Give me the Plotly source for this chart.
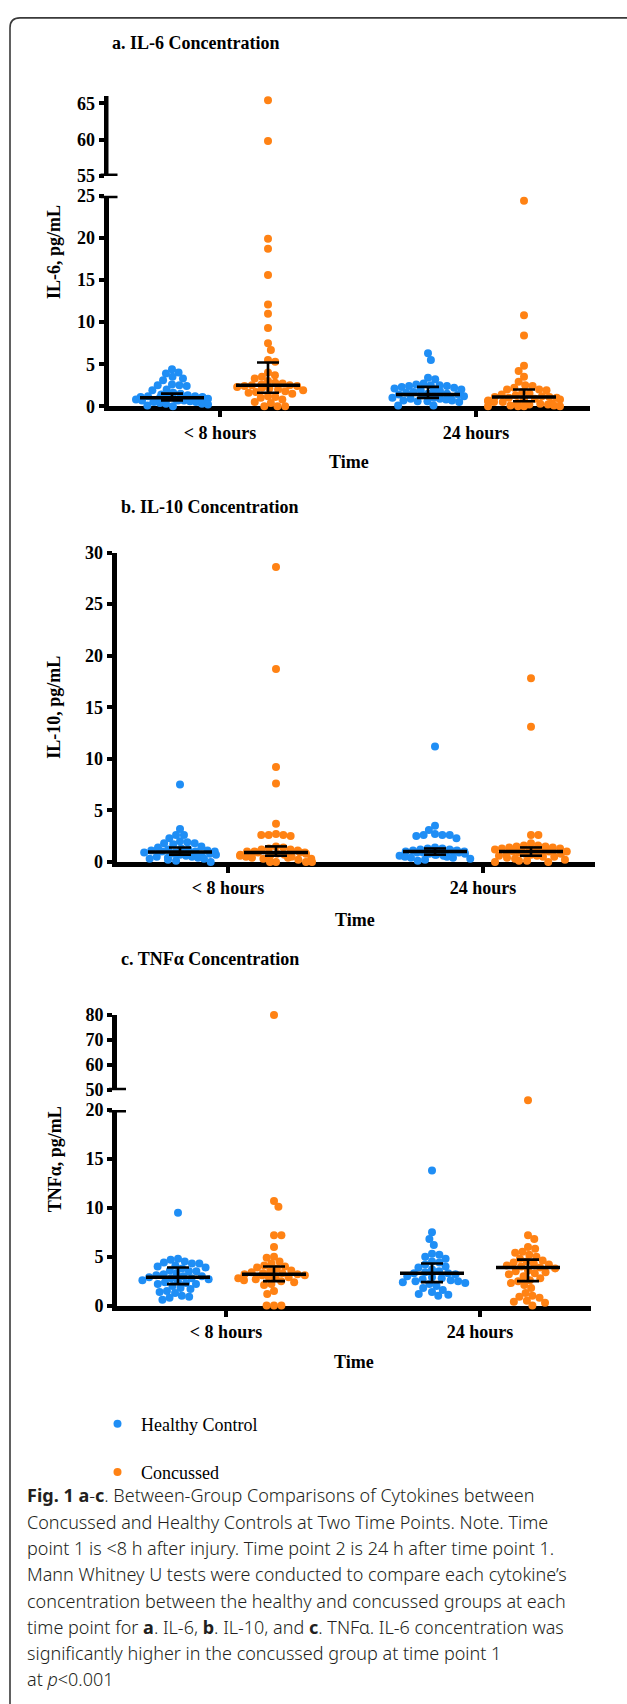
import numpy as np
import plotly.graph_objects as go

W, H = 627, 1704

# ---------------- data ----------------
categories = ["&lt; 8 hours", "24 hours"]
groups = ["Healthy Control", "Concussed"]

# IL-6, pg/mL
il6_hc_8h = [4.4, 4.0, 3.9, 3.5, 3.3, 3.1, 2.6, 2.5, 2.5, 2.4, 2.0, 1.9, 1.6, 1.5, 1.4, 1.3, 1.2, 1.2,
             1.1, 1.1, 1.0, 1.0, 1.0, 0.9, 0.9, 0.8, 0.8, 0.7, 0.7, 0.7, 0.6, 0.6, 0.5, 0.5, 0.4, 0.3,
             0.3, 0.2, 0.1, 0.0]
il6_cc_8h = [65.4, 59.8, 19.9, 18.7, 15.6, 12.1, 11.0, 9.3, 7.5, 6.7, 5.5, 5.3, 4.0, 3.7, 3.5, 3.3,
             3.0, 2.8, 2.7, 2.6, 2.5, 2.5, 2.4, 2.4, 2.3, 2.2, 2.1, 2.0, 1.9, 1.8, 1.7, 1.6, 1.5, 1.2,
             1.1, 1.0, 0.8, 0.5, 0.4, 0.0, 0.0, 0.0]
il6_hc_24h = [6.3, 5.5, 3.4, 3.2, 2.7, 2.6, 2.5, 2.5, 2.4, 2.4, 2.3, 2.2, 2.1, 2.0, 2.0, 1.9, 1.8,
              1.7, 1.6, 1.5, 1.5, 1.4, 1.4, 1.3, 1.2, 1.1, 1.0, 1.0, 0.9, 0.9, 0.8, 0.8, 0.7, 0.7,
              0.6, 0.6, 0.5, 0.1, 0.1]
il6_cc_24h = [24.4, 10.8, 8.4, 4.8, 4.2, 3.5, 2.9, 2.5, 2.4, 2.2, 2.0, 2.0, 1.9, 1.7, 1.5, 1.4, 1.3,
              1.2, 1.1, 1.1, 1.0, 1.0, 0.9, 0.8, 0.8, 0.7, 0.6, 0.5, 0.5, 0.4, 0.3, 0.3, 0.2, 0.2,
              0.1, 0.1, 0.0, 0.0, 0.0, 0.0]
# median, Q1, Q3 per [8h, 24h]
il6_hc_stats = [(1.0, 0.7, 1.5), (1.4, 1.0, 2.3)]
il6_cc_stats = [(2.5, 1.6, 5.2), (1.1, 0.6, 2.0)]

# IL-10, pg/mL
il10_hc_8h = [7.5, 3.2, 2.6, 2.6, 2.3, 2.0, 1.9, 1.8, 1.8, 1.7, 1.5, 1.4, 1.3, 1.2, 1.2, 1.1, 1.1,
              1.0, 1.0, 1.0, 0.9, 0.9, 0.8, 0.8, 0.7, 0.7, 0.6, 0.6, 0.5, 0.5, 0.4, 0.4, 0.3, 0.3,
              0.2, 0.1, 0.0]
il10_cc_8h = [28.6, 18.7, 9.2, 7.6, 3.7, 2.7, 2.6, 2.6, 2.6, 2.5, 1.5, 1.4, 1.3, 1.2, 1.2, 1.1, 1.0,
              1.0, 0.9, 0.9, 0.9, 0.8, 0.8, 0.7, 0.7, 0.6, 0.6, 0.5, 0.5, 0.4, 0.4, 0.3, 0.3, 0.2,
              0.0, 0.0, 0.0, 0.0]
il10_hc_24h = [11.2, 3.5, 3.1, 2.7, 2.6, 2.6, 2.6, 2.5, 2.3, 1.4, 1.3, 1.3, 1.2, 1.2, 1.1, 1.1, 1.0,
               1.0, 1.0, 0.9, 0.9, 0.9, 0.8, 0.8, 0.7, 0.7, 0.6, 0.6, 0.5, 0.5, 0.4, 0.4, 0.3, 0.2,
               0.1]
il10_cc_24h = [17.8, 13.1, 2.6, 2.6, 1.8, 1.6, 1.6, 1.5, 1.5, 1.4, 1.4, 1.3, 1.3, 1.2, 1.2, 1.1, 1.1,
               1.0, 1.0, 1.0, 0.9, 0.9, 0.8, 0.8, 0.7, 0.7, 0.6, 0.6, 0.5, 0.5, 0.4, 0.3, 0.2, 0.1,
               0.1, 0.0, 0.0]
il10_hc_stats = [(0.95, 0.7, 1.4), (1.0, 0.7, 1.3)]
il10_cc_stats = [(0.9, 0.6, 1.5), (1.0, 0.6, 1.4)]

# TNF-alpha, pg/mL
tnf_hc_8h = [9.5, 4.8, 4.7, 4.5, 4.4, 4.3, 4.3, 4.1, 4.0, 3.9, 3.8, 3.6, 3.5, 3.5, 3.3, 3.2, 3.1,
             3.0, 3.0, 2.9, 2.8, 2.8, 2.7, 2.6, 2.5, 2.4, 2.3, 2.2, 2.2, 2.0, 1.8, 1.7, 1.5, 1.4,
             1.3, 1.0, 0.9, 0.8, 0.6]
tnf_cc_8h = [80.0, 10.7, 10.1, 7.2, 7.2, 6.0, 5.0, 4.9, 4.5, 4.3, 4.1, 4.0, 3.9, 3.8, 3.6, 3.5, 3.4,
             3.3, 3.3, 3.2, 3.2, 3.1, 3.1, 3.0, 3.0, 2.9, 2.9, 2.8, 2.7, 2.6, 2.5, 2.4, 2.2, 2.1,
             1.5, 1.2, 0.0, 0.0, 0.0]
tnf_hc_24h = [13.8, 7.5, 6.8, 6.2, 5.3, 5.2, 5.0, 4.8, 4.5, 4.4, 4.2, 4.0, 3.9, 3.7, 3.5, 3.4, 3.3,
              3.3, 3.2, 3.0, 2.9, 2.8, 2.7, 2.6, 2.5, 2.5, 2.4, 2.3, 2.2, 2.0, 1.8, 1.6, 1.4, 1.2,
              1.1, 1.0]
tnf_cc_24h = [46.0, 7.2, 6.8, 6.0, 5.8, 5.5, 5.4, 5.2, 5.0, 4.8, 4.6, 4.5, 4.4, 4.3, 4.2, 4.1, 4.0,
              3.9, 3.8, 3.6, 3.5, 3.4, 3.3, 3.2, 3.0, 2.8, 2.6, 2.5, 2.3, 2.1, 1.8, 1.3, 1.0, 0.9,
              0.8, 0.5, 0.4, 0.3, 0.0]
tnf_hc_stats = [(2.9, 2.2, 3.9), (3.3, 2.4, 4.3)]
tnf_cc_stats = [(3.2, 2.5, 4.0), (3.9, 2.5, 4.7)]

# ---------------- styling / layout constants ----------------
COL = {"Healthy Control": "#1f8ef5", "Concussed": "#ff8214"}
SERIF = "Liberation Serif"
SANS = "Noto Sans"
LW = 5

panels = [
    dict(title="a. IL-6 Concentration", ytitle="IL-6, pg/mL",
         data=[[il6_hc_8h, il6_hc_24h], [il6_cc_8h, il6_cc_24h]],
         stats=[il6_hc_stats, il6_cc_stats],
         xpx=(108.5, 590), catpx=(220, 476),
         low=dict(px=(401, 188), rng=(0, 25), tickvals=[0, 5, 10, 15, 20, 25]),
         up=dict(px=(168, 87), rng=(55, 66), tickvals=[55, 60, 65]),
         tpos=(196, 33), ytpos=(54, 245), xtpos=(349, 457)),
    dict(title="b. IL-10 Concentration", ytitle="IL-10, pg/mL",
         data=[[il10_hc_8h, il10_hc_24h], [il10_cc_8h, il10_cc_24h]],
         stats=[il10_hc_stats, il10_cc_stats],
         xpx=(116.5, 595), catpx=(228, 483),
         low=dict(px=(862, 549), rng=(0, 30), tickvals=[0, 5, 10, 15, 20, 25, 30]),
         up=None,
         tpos=(210, 503), ytpos=(54, 706), xtpos=(355, 921)),
    dict(title="c. TNF\u03b1 Concentration", ytitle="TNF\u03b1, pg/mL",
         data=[[tnf_hc_8h, tnf_hc_24h], [tnf_cc_8h, tnf_cc_24h]],
         stats=[tnf_hc_stats, tnf_cc_stats],
         xpx=(117, 591), catpx=(226, 480),
         low=dict(px=(1311, 1113), rng=(0, 20), tickvals=[0, 5, 10, 15, 20]),
         up=dict(px=(1093, 1017), rng=(50, 80), tickvals=[50, 60, 70, 80]),
         tpos=(210, 960), ytpos=(55, 1163), xtpos=(354, 1368)),
]

GROUP_OFF = 48.0   # px from category centre
MED_HALF = 32.0
CAP_HALF = 11.0
DOT = 8


def swarm(vals, ppu, d=7.4, maxw=36.0):
    """beeswarm offsets in px, computed from the values"""
    vals = np.asarray(vals, float)
    out = np.zeros(len(vals))
    placed = []
    order = np.argsort(-vals, kind="stable")
    flip = 1
    for k, i in enumerate(order):
        y = vals[i] * ppu
        forb = []
        for (px, py) in placed:
            dy = abs(py - y)
            if dy < d:
                h = np.sqrt(d * d - dy * dy)
                forb.append((px - h, px + h))
        cands = [0.0] + [a for a, b in forb] + [b for a, b in forb]
        cands = sorted(cands, key=lambda c: (round(abs(c), 6), flip * c))
        chosen = None
        for c in cands:
            if abs(c) > maxw:
                continue
            if all(not (a + 1e-6 < c < b - 1e-6) for a, b in forb):
                chosen = c
                break
        if chosen is None:
            chosen = ((k * 7) % 13 - 6) / 6.0 * maxw
        flip = -flip
        placed.append((chosen, y))
        out[i] = chosen
    return out


fig = go.Figure()
layout = dict(width=W, height=H, margin=dict(l=0, r=0, t=0, b=0),
              paper_bgcolor="white", plot_bgcolor="white", showlegend=True)
annotations = []
shapes = []

axis_common = dict(showline=True, linewidth=LW, linecolor="black", showgrid=False,
                   zeroline=False, ticks="outside", ticklen=5, tickwidth=4, tickcolor="black",
                   tickfont=dict(family=SERIF, size=18, color="black", weight="bold"),
                   layer="below traces", fixedrange=True)

yidx = 1
legend_done = set()
for pi, p in enumerate(panels):
    xname = "x" if pi == 0 else f"x{pi + 1}"
    xkey = "xaxis" if pi == 0 else f"xaxis{pi + 1}"
    scale = p["catpx"][1] - p["catpx"][0]
    xr = [(p["xpx"][0] - p["catpx"][0]) / scale, (p["xpx"][1] - p["catpx"][0]) / scale]
    ylow_name = "y" if yidx == 1 else f"y{yidx}"
    ylow_key = "yaxis" if yidx == 1 else f"yaxis{yidx}"
    low = p["low"]
    layout[ylow_key] = dict(axis_common, domain=[1 - low["px"][0] / H, 1 - low["px"][1] / H],
                            range=list(low["rng"]), tickvals=low["tickvals"], anchor=xname)
    ppu_low = (low["px"][0] - low["px"][1]) / (low["rng"][1] - low["rng"][0])
    yidx += 1
    ydot_up = None
    if p["up"]:
        up = p["up"]
        yup_name = f"y{yidx}"
        layout[f"yaxis{yidx}"] = dict(axis_common, domain=[1 - up["px"][0] / H, 1 - up["px"][1] / H],
                                      range=list(up["rng"]), tickvals=up["tickvals"], anchor=xname)
        ppu_up = (up["px"][0] - up["px"][1]) / (up["rng"][1] - up["rng"][0])
        yidx += 1
        # hidden companion axis: same scale as the upper segment, but also spanning the break gap
        ydot_up = f"y{yidx}"
        gap_bottom = up["rng"][0] - (low["px"][1] - up["px"][0]) / ppu_up
        layout[f"yaxis{yidx}"] = dict(domain=[1 - low["px"][1] / H, 1 - up["px"][1] / H],
                                      range=[gap_bottom, up["rng"][1]], visible=False,
                                      anchor=xname, fixedrange=True)
        yidx += 1
        for yn, yv in ((yup_name, up["rng"][0]), (ylow_name, low["rng"][1])):
            shapes.append(dict(type="line", xref="paper", yref=yn,
                               x0=(p["xpx"][0] - 8) / W, x1=(p["xpx"][0] + 9) / W, y0=yv, y1=yv,
                               line=dict(color="black", width=5)))
    layout[xkey] = dict(axis_common, domain=[p["xpx"][0] / W, p["xpx"][1] / W], range=xr,
                        tickvals=[0, 1], ticktext=categories, anchor=ylow_name, ticklen=6)

    for gi, g in enumerate(groups):
        sign = -1 if gi == 0 else 1
        for ci in range(2):
            vals = np.asarray(p["data"][gi][ci], float)
            centre = ci + sign * GROUP_OFF / scale
            low_mask = vals <= low["rng"][1]
            lv = vals[low_mask]
            offs = swarm(lv, ppu_low) / scale
            show = g not in legend_done
            legend_done.add(g)
            fig.add_trace(go.Scatter(x=centre + offs, y=lv, mode="markers", xaxis=xname,
                                     yaxis=ylow_name, name=g, legendgroup=g, showlegend=show,
                                     marker=dict(color=COL[g], size=DOT, line=dict(width=0)),
                                     cliponaxis=False, hoverinfo="skip"))
            hv = vals[~low_mask]
            if len(hv) and ydot_up:
                offs_u = swarm(hv, ppu_up) / scale
                fig.add_trace(go.Scatter(x=centre + offs_u, y=hv, mode="markers", xaxis=xname,
                                         yaxis=ydot_up, showlegend=False, legendgroup=g,
                                         marker=dict(color=COL[g], size=DOT, line=dict(width=0)),
                                         cliponaxis=False, hoverinfo="skip"))
            med, q1, q3 = p["stats"][gi][ci]
            mh, ch = MED_HALF / scale, CAP_HALF / scale
            fig.add_trace(go.Scatter(x=[centre - mh, centre + mh], y=[med, med], mode="lines",
                                     xaxis=xname, yaxis=ylow_name, showlegend=False,
                                     line=dict(color="black", width=3.5), hoverinfo="skip"))
            fig.add_trace(go.Scatter(
                x=[centre, centre, None, centre - ch, centre + ch, None, centre - ch, centre + ch],
                y=[q1, q3, None, q3, q3, None, q1, q1], mode="lines", xaxis=xname,
                yaxis=ylow_name, showlegend=False, line=dict(color="black", width=2.6),
                hoverinfo="skip"))

    bold18 = dict(family=SERIF, size=18, color="black", weight="bold")
    annotations.append(dict(text=p["title"], x=p["tpos"][0] / W, y=1 - p["tpos"][1] / H,
                            xref="paper", yref="paper", showarrow=False, xanchor="center",
                            yanchor="middle", font=bold18))
    annotations.append(dict(text=p["ytitle"], x=p["ytpos"][0] / W, y=1 - p["ytpos"][1] / H,
                            xref="paper", yref="paper", showarrow=False, xanchor="center",
                            yanchor="middle", textangle=-90, font=bold18))
    annotations.append(dict(text="Time", x=p["xtpos"][0] / W, y=1 - p["xtpos"][1] / H,
                            xref="paper", yref="paper", showarrow=False, xanchor="center",
                            yanchor="middle", font=bold18))

caption_lines = [
    "<b>Fig. 1</b> <b>a</b>-<b>c</b>. Between-Group Comparisons of Cytokines between",
    "Concussed and Healthy Controls at Two Time Points. Note. Time",
    "point 1 is &lt;8 h after injury. Time point 2 is 24 h after time point 1.",
    "Mann Whitney U tests were conducted to compare each cytokine\u2019s",
    "concentration between the healthy and concussed groups at each",
    "time point for <b>a</b>. IL-6, <b>b</b>. IL-10, and <b>c</b>. TNF\u03b1. IL-6 concentration was",
    "significantly higher in the concussed group at time point 1",
    "at <i>p</i>&lt;0.001",
]
cap_y = [1503, 1529.5, 1556, 1583, 1609.5, 1636, 1663, 1689]
for t, yy in zip(caption_lines, cap_y):
    annotations.append(dict(text=t, x=25 / W, y=1 - yy / H, xref="paper", yref="paper",
                            showarrow=False, xanchor="left", yanchor="middle",
                            font=dict(family=SANS, size=18, color="#231f20", weight=300)))

# figure frame (rounded top-left corner, open to the right and bottom)
fx, fy, r = 10 / W, 1 - 8 / H, 10
shapes.append(dict(type="path", xref="paper", yref="paper",
                   path=f"M {fx},-0.01 L {fx},{1 - (8 + r) / H} Q {fx},{fy} {(10 + r) / W},{fy} L 1.01,{fy}",
                   line=dict(color="#3a3a3a", width=1.6)))

layout["annotations"] = annotations
layout["shapes"] = shapes
layout["legend"] = dict(x=94 / W, y=1 - 1412 / H, xanchor="left", yanchor="top",
                        font=dict(family=SERIF, size=18, color="black"),
                        traceorder="grouped", tracegroupgap=22, bgcolor="rgba(0,0,0,0)",
                        itemwidth=37, itemclick=False, itemdoubleclick=False)
fig.update_layout(**layout)
fig.write_html("out.html")
